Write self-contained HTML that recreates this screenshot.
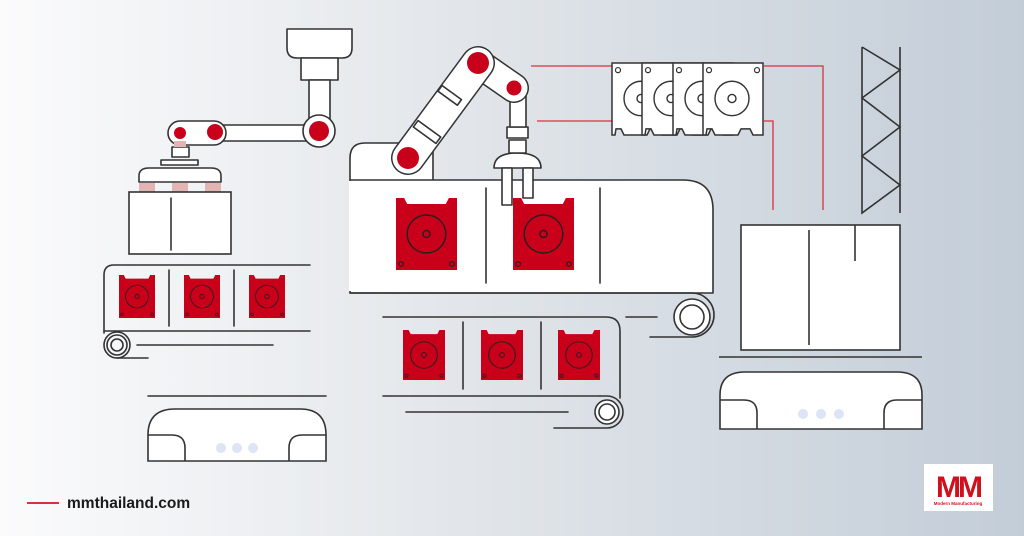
<!DOCTYPE html>
<html><head><meta charset="utf-8"><style>
html,body{margin:0;padding:0;width:1024px;height:536px;overflow:hidden}
svg{display:block}
text{font-family:"Liberation Sans",sans-serif}
</style></head><body>
<svg width="1024" height="536" viewBox="0 0 1024 536" xmlns="http://www.w3.org/2000/svg">
<defs>
<linearGradient id="bg" x1="0" y1="0" x2="1" y2="0">
<stop offset="0" stop-color="#fbfbfc"/><stop offset="0.45" stop-color="#e2e6ea"/><stop offset="1" stop-color="#c3cdd8"/>
</linearGradient>
<symbol id="rc" viewBox="0 0 60 72" preserveAspectRatio="none">
<path d="M0,0H8L11,6H49L52,0H60V72H0Z" fill="#c8001a"/>
<circle cx="30" cy="36" r="19" fill="none" stroke="#222" stroke-width="1.4"/>
<circle cx="30" cy="36" r="3.5" fill="none" stroke="#222" stroke-width="1.4"/>
<circle cx="5" cy="66" r="2.3" fill="none" stroke="#222" stroke-width="1.2"/>
<circle cx="55" cy="66" r="2.3" fill="none" stroke="#222" stroke-width="1.2"/>
</symbol>
<symbol id="wc" viewBox="0 0 62 73" preserveAspectRatio="none">
<path d="M1,1H61V72H51L48,66H39L36,72H13L10,66H5L4,72H1Z" fill="#fff" stroke="#333" stroke-width="1.5"/>
<circle cx="7" cy="8" r="2.5" fill="none" stroke="#333" stroke-width="1.2"/>
<circle cx="55" cy="8" r="2.5" fill="none" stroke="#333" stroke-width="1.2"/>
<circle cx="30" cy="36" r="17" fill="none" stroke="#333" stroke-width="1.4"/>
<circle cx="30" cy="36" r="4" fill="none" stroke="#333" stroke-width="1.4"/>
</symbol>
</defs>
<rect width="1024" height="536" fill="url(#bg)"/>
<g fill="#fff" stroke="#333" stroke-width="1.6" stroke-linejoin="round" stroke-linecap="round">
<path d="M287,29H352V48Q352,58 342,58H297Q287,58 287,48Z"/>
<rect x="301" y="58" width="37" height="22"/>
<rect x="309" y="80" width="21" height="50"/>
<rect x="210" y="125" width="100" height="16"/>
<rect x="168" y="121" width="58" height="24" rx="12"/>
<circle cx="319" cy="131" r="16"/>
<rect x="172" y="147" width="17" height="10"/>
<rect x="161" y="160" width="37" height="5"/>
<path d="M139,182V176Q139,168 149,168H211Q221,168 221,176V182Z"/>
</g>
<circle cx="319" cy="131" r="10" fill="#c8001a"/>
<circle cx="180" cy="133" r="6" fill="#c8001a"/>
<circle cx="215" cy="132" r="8" fill="#c8001a"/>
<g fill="#e2b5b5"><rect x="139" y="183" width="16" height="9"/><rect x="172" y="183" width="16" height="9"/><rect x="205" y="183" width="16" height="9"/><rect x="174" y="141" width="12" height="6"/></g>
<g fill="#fff" stroke="#333" stroke-width="1.6">
<rect x="129" y="192" width="102" height="62"/>
</g>
<g fill="none" stroke="#333" stroke-width="1.6" stroke-linecap="round">
<line x1="171" y1="198" x2="171" y2="250"/>
<path d="M310,265H114Q104,265 104,275V333"/>
<line x1="104" y1="331" x2="310" y2="331"/>
<line x1="169" y1="270" x2="169" y2="326"/>
<line x1="234" y1="270" x2="234" y2="326"/>
<circle cx="117" cy="345" r="13"/><circle cx="117" cy="345" r="10"/><circle cx="117" cy="345" r="6"/>
<line x1="137" y1="345" x2="273" y2="345"/>
<line x1="117" y1="358" x2="148" y2="358"/>
<line x1="148" y1="396" x2="326" y2="396"/>
</g>
<use href="#rc" x="119" y="275" width="36" height="43"/>
<use href="#rc" x="184" y="275" width="36" height="43"/>
<use href="#rc" x="249" y="275" width="36" height="43"/>
<g fill="#fff" stroke="#333" stroke-width="1.6">
<path d="M148,461V435Q148,409 175,409H300Q326,409 326,435V461Z"/>
<path d="M148,435H172Q185,435 185,448V461M326,435H302Q289,435 289,448V461" fill="none"/>
</g>
<g fill="#dde4f5"><circle cx="221" cy="448" r="5"/><circle cx="237" cy="448" r="5"/><circle cx="253" cy="448" r="5"/></g>
<g fill="#fff" stroke="#333" stroke-width="1.6" stroke-linejoin="round">
<path d="M350,180V158Q350,143 365,143H433V180"/>
<path d="M350,180H683Q713,180 713,210V293H350Z"/>
</g>
<rect x="349" y="181" width="2" height="110" fill="#fff"/>
<g fill="none" stroke="#333" stroke-width="1.6" stroke-linecap="round">
<line x1="486" y1="188" x2="486" y2="283"/>
<line x1="600" y1="188" x2="600" y2="283"/>
<path d="M350,293H692A22,22 0 0 1 692,337H650"/>
<circle cx="692" cy="317" r="18" fill="#fff"/><circle cx="692" cy="317" r="12"/>
<line x1="626" y1="317" x2="657" y2="317"/>
</g>
<use href="#rc" x="396" y="198" width="61" height="72"/>
<use href="#rc" x="513" y="198" width="61" height="72"/>
<g fill="#fff" stroke="#333" stroke-width="1.6" stroke-linejoin="round">
<path d="M494,168Q494,153 517,153Q541,153 541,168Z"/>
<rect x="502" y="168" width="10" height="37"/>
<rect x="523" y="168" width="10" height="30"/>
<rect x="509" y="140" width="17" height="13"/>
<rect x="507" y="127" width="21" height="11"/>
<rect x="510" y="88" width="16" height="39"/>
<line x1="478" y1="63" x2="514" y2="88" stroke-width="30" stroke-linecap="round"/>
<line x1="478" y1="63" x2="514" y2="88" stroke="#fff" stroke-width="27" stroke-linecap="round"/>
<line x1="408" y1="158" x2="478" y2="63" stroke-width="34" stroke-linecap="round"/>
<line x1="408" y1="158" x2="478" y2="63" stroke="#fff" stroke-width="31" stroke-linecap="round"/>
<rect x="413" y="128" width="28" height="8" transform="rotate(36 427 132)"/>
<rect x="438" y="92" width="24" height="7" transform="rotate(36 450 95)"/>
</g>
<circle cx="408" cy="158" r="11" fill="#c8001a"/>
<circle cx="478" cy="63" r="11" fill="#c8001a"/>
<circle cx="514" cy="88" r="7.5" fill="#c8001a"/>
<g fill="none" stroke="#333" stroke-width="1.6" stroke-linecap="round">
<path d="M383,317H606Q620,317 620,331V398"/>
<line x1="383" y1="396" x2="600" y2="396"/>
<path d="M600,396H607A16,16 0 0 1 607,428H554"/>
<circle cx="607" cy="412" r="12" fill="#fff"/><circle cx="607" cy="412" r="8"/>
<line x1="406" y1="412" x2="568" y2="412"/>
<line x1="463" y1="322" x2="463" y2="389"/>
<line x1="541" y1="322" x2="541" y2="389"/>
</g>
<use href="#rc" x="403" y="330" width="42" height="50"/>
<use href="#rc" x="481" y="330" width="42" height="50"/>
<use href="#rc" x="558" y="330" width="42" height="50"/>
<g fill="none" stroke="#d8323f" stroke-width="1.3">
<line x1="531" y1="66" x2="612" y2="66"/>
<line x1="537" y1="121" x2="612" y2="121"/>
<path d="M764,66H823V210"/>
<path d="M764,121H773V210"/>
</g>
<use href="#wc" x="611" y="62" width="62" height="74"/>
<use href="#wc" x="641" y="62" width="62" height="74"/>
<use href="#wc" x="672" y="62" width="62" height="74"/>
<use href="#wc" x="702" y="62" width="62" height="74"/>
<g fill="none" stroke="#333" stroke-width="1.6">
<line x1="900" y1="47" x2="900" y2="213"/>
<polyline points="862,47 900,70 862,98 900,127 862,156 900,185 862,213 862,47"/>
</g>
<g fill="#fff" stroke="#333" stroke-width="1.6">
<rect x="741" y="225" width="159" height="125"/>
</g>
<g stroke="#333" stroke-width="1.6" fill="none">
<line x1="809" y1="230" x2="809" y2="345"/>
<line x1="855" y1="225" x2="855" y2="261"/>
<line x1="719" y1="357" x2="922" y2="357"/>
</g>
<g fill="#fff" stroke="#333" stroke-width="1.6">
<path d="M720,429V395Q720,372 745,372H897Q922,372 922,395V429Z"/>
<path d="M720,400H744Q757,400 757,413V429M922,400H897Q884,400 884,413V429" fill="none"/>
</g>
<g fill="#dde4f5"><circle cx="803" cy="414" r="5"/><circle cx="821" cy="414" r="5"/><circle cx="839" cy="414" r="5"/></g>
<line x1="27" y1="503" x2="59" y2="503" stroke="#d8323f" stroke-width="2"/>
<text x="67" y="508" font-size="15.5" font-weight="bold" fill="#1a1a1a">mmthailand.com</text>
<rect x="924" y="464" width="69" height="47" fill="#fff"/>
<text x="958" y="497" font-size="30" font-weight="bold" fill="#d0101c" text-anchor="middle" letter-spacing="-3">MM</text>
<text x="958" y="505" font-size="4.5" font-weight="bold" fill="#d0101c" text-anchor="middle">Modern Manufacturing</text>
</svg>
</body></html>
